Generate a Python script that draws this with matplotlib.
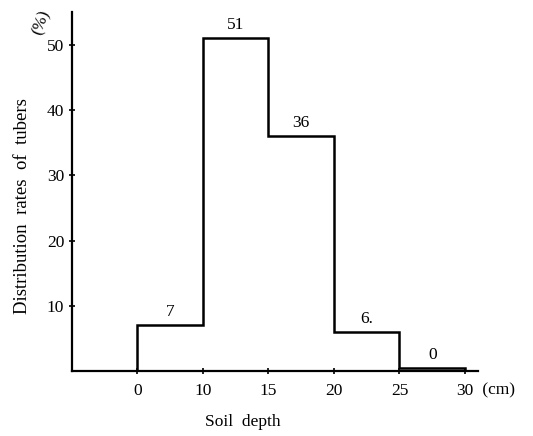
import matplotlib
matplotlib.use("Agg")
import matplotlib.pyplot as plt

# soil depth bins (cm) and share of tubers (%)
depth_edges = ['0', '10', '15', '20', '25', '30']
rates = [7, 51, 36, 6, 0.5]
rate_labels = ['7', '51', '36', '6.', '0']

plt.rcParams['font.family'] = ['Liberation Serif', 'DejaVu Serif']

fig = plt.figure(figsize=(5.33, 4.36), dpi=100)
ax = fig.add_axes([0.135, 0.149, 0.762, 0.823])

pos = list(range(len(depth_edges)))
# step outline of the histogram
xs = [pos[0]]
ys = [0]
for i, r in enumerate(rates):
    xs += [pos[i], pos[i + 1]]
    ys += [r, r]
xs.append(pos[-1])
ys.append(0)
ax.plot(xs, ys, color='black', lw=1.8, solid_joinstyle='miter')

for i, lab in enumerate(rate_labels):
    ax.text(pos[i] + 0.5, max(rates[i], 0) + 0.8, lab, ha='center', va='bottom',
            fontsize=12.5)

ax.set_xlim(-1, 5.2)
ax.set_ylim(0, 55)
for s in ['top', 'right']:
    ax.spines[s].set_visible(False)
for s in ['left', 'bottom']:
    ax.spines[s].set_linewidth(1.6)

ax.set_xticks(pos)
ax.set_xticklabels(depth_edges, fontsize=12.5)
ax.set_yticks([10, 20, 30, 40, 50])
ax.set_yticklabels(['10', '20', '30', '40', '50'], fontsize=12.5)
ax.tick_params(direction='inout', length=5, width=1.2, pad=3)
ax.tick_params(axis='x', pad=6)

ax.set_ylabel('Distribution  rates  of  tubers', fontsize=13.5)
ax.set_xlabel('Soil  depth', fontsize=12.5)
ax.xaxis.set_label_coords(0.42, -0.12)
ax.yaxis.set_label_coords(-0.1, 0.46)

ax.text(1.0, -0.055, ' (cm)', transform=ax.transAxes, ha='left', va='center', fontsize=12.5)
ax.text(-0.075, 0.97, '(%)', transform=ax.transAxes, rotation=70, ha='center',
        va='center', fontsize=12)

fig.savefig('out.png', dpi=100)
